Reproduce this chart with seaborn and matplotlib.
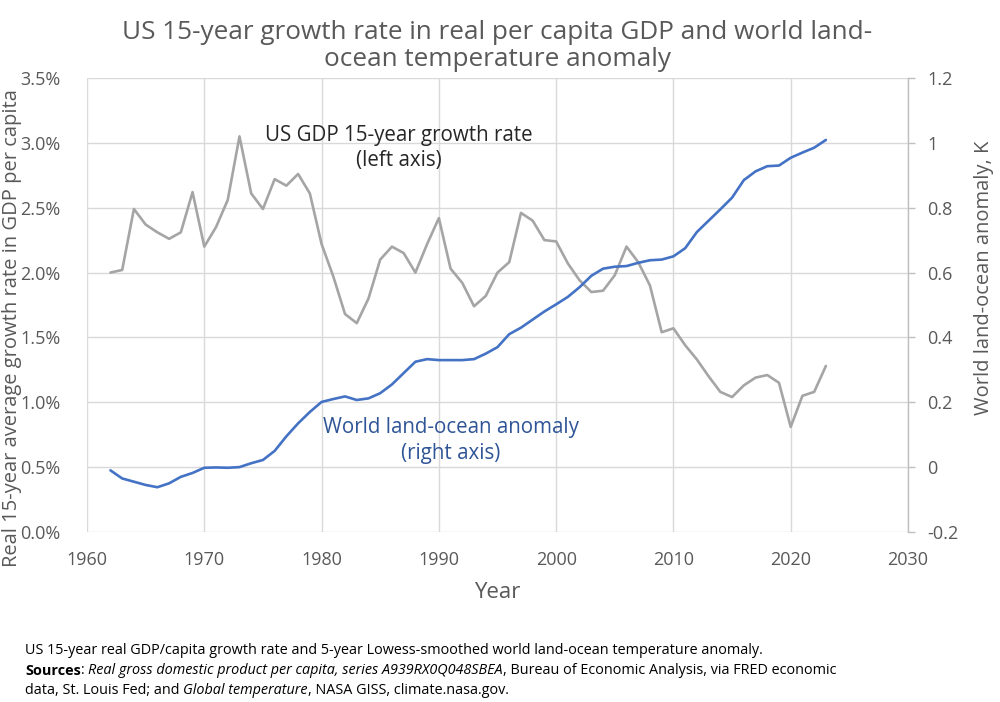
import numpy as np
import pandas as pd
import seaborn as sns
import matplotlib.pyplot as plt
from matplotlib.ticker import FuncFormatter, MultipleLocator

# ---------------- data ----------------
years = list(range(1962, 2024))

gdp_growth_pct = [
    2.00, 2.02, 2.49, 2.37, 2.31, 2.26, 2.31, 2.62, 2.20, 2.35,   # 1962-1971
    2.56, 3.05, 2.61, 2.49, 2.72, 2.67, 2.76, 2.61, 2.22, 1.97,   # 1972-1981
    1.68, 1.61, 1.80, 2.10, 2.20, 2.15, 2.00, 2.22, 2.42, 2.03,   # 1982-1991
    1.92, 1.74, 1.82, 2.00, 2.08, 2.46, 2.40, 2.25, 2.24, 2.07,   # 1992-2001
    1.94, 1.85, 1.86, 1.98, 2.20, 2.08, 1.90, 1.54, 1.57, 1.44,   # 2002-2011
    1.33, 1.20, 1.08, 1.04, 1.13, 1.19, 1.21, 1.15, 0.81, 1.05,   # 2012-2021
    1.08, 1.28,                                                   # 2022-2023
]

temp_anomaly = [
    -0.010, -0.035, -0.045, -0.055, -0.062, -0.050, -0.030, -0.018, -0.002, -0.001,  # 1962-1971
    -0.002, 0.000, 0.012, 0.022, 0.050, 0.095, 0.135, 0.170, 0.201, 0.210,           # 1972-1981
    0.218, 0.207, 0.212, 0.228, 0.255, 0.290, 0.325, 0.333, 0.330, 0.330,            # 1982-1991
    0.330, 0.333, 0.350, 0.370, 0.410, 0.430, 0.455, 0.480, 0.502, 0.525,            # 1992-2001
    0.555, 0.590, 0.612, 0.618, 0.620, 0.630, 0.638, 0.640, 0.650, 0.675,            # 2002-2011
    0.725, 0.760, 0.795, 0.831, 0.885, 0.912, 0.928, 0.930, 0.954, 0.970,            # 2012-2021
    0.985, 1.009,                                                                    # 2022-2023
]

x_ticks = [1960, 1970, 1980, 1990, 2000, 2010, 2020, 2030]

title = "US 15-year growth rate in real per capita GDP and world land-\nocean temperature anomaly"
x_label = "Year"
y_left_label = "Real 15-year average growth rate in GDP per capita"
y_right_label = "World land-ocean anomaly, K"
gdp_note = "US GDP 15-year growth rate\n(left axis)"
temp_note = "World land-ocean anomaly\n(right axis)"

footnote_lines = [
    [("US 15-year real GDP/capita growth rate and 5-year Lowess-smoothed world land-ocean temperature anomaly.", "normal", "normal")],
    [("Sources", "bold", "normal"), (": ", "normal", "normal"),
     ("Real gross domestic product per capita, series A939RX0Q048SBEA", "normal", "italic"),
     (", Bureau of Economic Analysis, via FRED economic", "normal", "normal")],
    [("data, St. Louis Fed; and ", "normal", "normal"), ("Global temperature", "normal", "italic"),
     (", NASA GISS, climate.nasa.gov.", "normal", "normal")],
]

df = pd.DataFrame({"Year": years, "GDP": gdp_growth_pct, "Temp": temp_anomaly})

# ---------------- style ----------------
sns.set_theme(style="white")
plt.rcParams['font.family'] = ['Open Sans', 'DejaVu Sans']

TICK_C = "#595959"
GRID_C = "#D9D9D9"
GRAY_LINE = "#A5A5A5"
BLUE_LINE = "#4472C4"

fig = plt.figure(figsize=(10, 7.02), dpi=100)
ax = fig.add_axes([0.087, 0.2422, 0.821, 0.6467])
ax2 = ax.twinx()

sns.lineplot(data=df, x="Year", y="GDP", ax=ax, color=GRAY_LINE, lw=1.9)
sns.lineplot(data=df, x="Year", y="Temp", ax=ax2, color=BLUE_LINE, lw=1.9)

ax.set_xlim(1960, 2030)
ax.set_ylim(0, 3.5)
ax2.set_ylim(-0.2, 1.2)

ax.set_xticks(x_ticks)
ax.yaxis.set_major_locator(MultipleLocator(0.5))
ax.yaxis.set_major_formatter(FuncFormatter(lambda v, p: f"{v:.1f}%"))
ax2.yaxis.set_major_locator(MultipleLocator(0.2))
ax2.yaxis.set_major_formatter(FuncFormatter(lambda v, p: f"{v:g}" if abs(v) > 1e-9 else "0"))

ax.grid(True, color=GRID_C, lw=1)
ax2.grid(False)
ax.set_axisbelow(True)

for a in (ax, ax2):
    for s in a.spines.values():
        s.set_visible(False)
ax2.spines['right'].set_visible(True)
ax2.spines['right'].set_color("#BFBFBF")
ax2.spines['right'].set_linewidth(1)

ax.tick_params(axis='x', length=0, pad=14, labelsize=13, labelcolor=TICK_C)
ax.tick_params(axis='y', length=0, pad=19, labelsize=13, labelcolor=TICK_C)
ax2.tick_params(axis='y', length=5, width=1, color="#BFBFBF", pad=9,
                labelsize=13, labelcolor=TICK_C, direction='out')

ax.set_xlabel(x_label, fontsize=16, color=TICK_C, labelpad=9)
ax.set_ylabel("")
ax2.set_ylabel("")

fig.text(0.012, 1 - 328 / 702, y_left_label, rotation=90, ha='center', va='center',
         fontsize=14.5, color=TICK_C)
fig.text(0.984, 1 - 278 / 702, y_right_label, rotation=90, ha='center', va='center',
         fontsize=14.5, color=TICK_C)

fig.text(0.497, 1 - 46 / 702, title, ha='center', va='center', fontsize=18.8,
         color="#595959", linespacing=1.12)

ax.text(1986.6, 2.96, gdp_note, ha='center', va='center', fontsize=14.8,
        color="#262626", linespacing=1.3)
ax2.text(1991.0, 0.082, temp_note, ha='center', va='center', fontsize=14.8,
         color="#2F5597", linespacing=1.3)

# footnote: consecutive text runs with mixed weight/style
FS = 10.4
renderer = fig.canvas.get_renderer()
for line, ypx in zip(footnote_lines, [650, 671, 691]):
    xpx = 25.0
    for txt, weight, style in line:
        t = fig.text(xpx / 1000, 1 - ypx / 702, txt, ha='left', va='center',
                     fontsize=FS, fontweight=weight, fontstyle=style, color="#000000")
        bb = t.get_window_extent(renderer=renderer)
        xpx += bb.width

fig.savefig("out.png", dpi=100)
